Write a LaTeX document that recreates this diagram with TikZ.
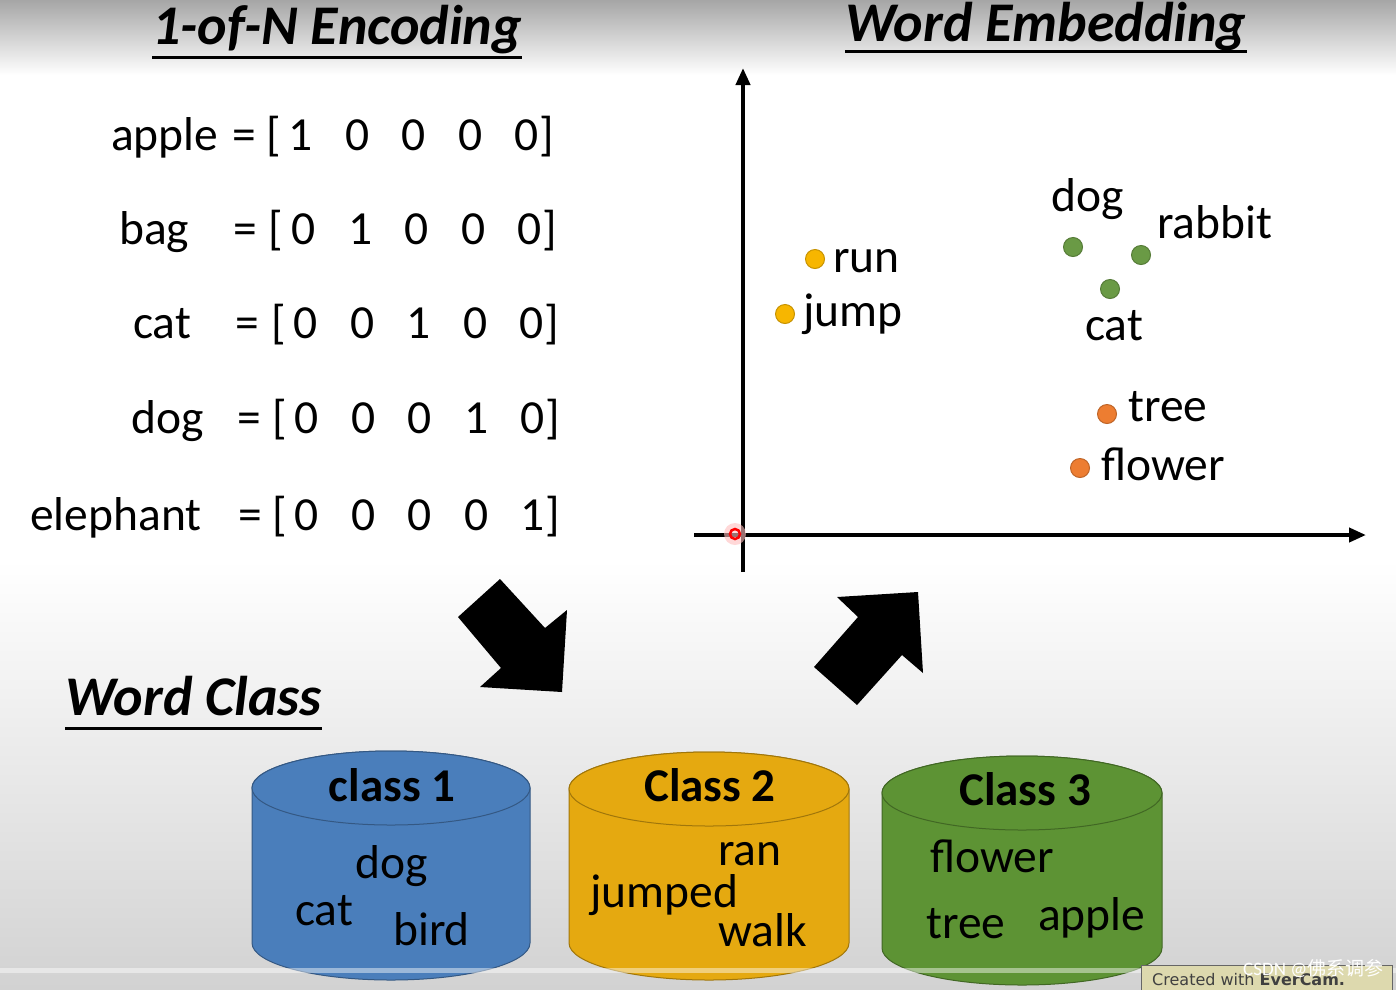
\documentclass[tikz,border=0pt]{standalone}
\usepackage{fontspec}
\setmainfont{Carlito}
\newfontfamily\cjkfont{Noto Sans CJK SC}
\newfontfamily\wmfont{DejaVu Sans}
\usetikzlibrary{arrows.meta}
\definecolor{cblue}{HTML}{4A7EBB}
\definecolor{cgold}{HTML}{E5A910}
\definecolor{cgreen}{HTML}{5D9334}
\definecolor{dgold}{HTML}{F7B600}
\definecolor{dgreen}{HTML}{6A9A45}
\definecolor{dorange}{HTML}{ED7D31}
\definecolor{bgtop}{HTML}{A6A6A6}
\definecolor{bgbot}{HTML}{D2D2D2}
\definecolor{wmbox}{HTML}{DDD9AE}
\newcommand\drawcyl[6]{%
  \filldraw[fill=#6, draw=#6!70!black, line width=1pt]
    (#1-#4,#2) -- (#1-#4,#3) arc[start angle=180,end angle=0,x radius=#4,y radius=#5]
    -- (#1+#4,#2) arc[start angle=0,end angle=-180,x radius=#4,y radius=#5] -- cycle;
  \filldraw[fill=#6, draw=#6!70!black, line width=1pt] (#1,#2) ellipse[x radius=#4, y radius=#5];}
\begin{document}
\begin{tikzpicture}[x=1pt,y=-1pt,
  wd/.style={font=\fontsize{47.5}{50}\selectfont, inner sep=0pt, anchor=base west},
  wdc/.style={font=\fontsize{47.5}{50}\selectfont, inner sep=0pt, anchor=base},
  ttl/.style={font=\fontsize{56}{60}\selectfont\bfseries\itshape, inner sep=0pt, anchor=base west},
  cls/.style={font=\fontsize{47}{50}\selectfont\bfseries, inner sep=0pt, anchor=base},
  ul/.style={line width=3pt},
  axis/.style={line width=4pt, -{Triangle[length=17pt,width=14pt]}},
  pt/.style={circle, inner sep=0pt, minimum size=19pt, line width=1pt},
  ptgold/.style={pt, fill=dgold, draw=dgold!80!black},
  ptgreen/.style={pt, fill=dgreen, draw=dgreen!80!black},
  ptorange/.style={pt, fill=dorange, draw=dorange!80!black},
  blk/.style={fill=black}]
\useasboundingbox (0,0) rectangle (1396,989);
% background
\fill[white] (0,0) rectangle (1396,989);
\shade[top color=bgtop, bottom color=white] (0,0) rectangle (1396,75);
\shade[top color=white, bottom color=bgbot] (0,560) rectangle (1396,989);

% titles
\node[ttl] (t1) at (152,44) {1-of-N Encoding};
\draw[ul] ([yshift=-13pt]t1.base west) -- ([yshift=-13pt]t1.base east);
\node[ttl] (t2) at (845,41) {Word Embedding};
\draw[ul] ([yshift=-10pt]t2.base west) -- ([yshift=-10pt]t2.base east);
\node[ttl] (t3) at (65,715) {Word Class};
\draw[ul] ([yshift=-13pt]t3.base west) -- ([yshift=-13pt]t3.base east);

% one-hot rows
\foreach \w/\wx/\yy/\eq/\br/\dz/\a/\b/\c/\d/\e/\r in {
  apple/111/150/232/266/301/1/0/0/0/0/1,
  bag/119/244/233/268/304/0/1/0/0/0/2,
  cat/133/338/235/271/306/0/0/1/0/0/3,
  dog/131/433/237/272/307/0/0/0/1/0/4,
  elephant/30/530/238/272/307/0/0/0/0/1/5}{
  \node[wd] (w\r) at (\wx,\yy) {\w};
  \node[wd] (eq\r) at (\eq,\yy) {=};
  \node[wd] (br\r) at (\br,\yy) {[};
  \node[wdc] (da\r) at (\dz,\yy) {\a};
  \node[wdc] (db\r) at (\dz+56.5,\yy) {\b};
  \node[wdc] (dc\r) at (\dz+113,\yy) {\c};
  \node[wdc] (dd\r) at (\dz+169.5,\yy) {\d};
  \node[wdc] (de\r) at (\dz+226,\yy) {\e};
  \node[wd] (ce\r) at (de\r.base east) {]};
}

% axes
\coordinate (O) at (743,535);
\coordinate (yb) at (743,572);
\coordinate (yt) at (743,68);
\coordinate (xl) at (694,535);
\coordinate (xr) at (1366,535);
\draw[axis] (yb) -- (yt);
\draw[axis] (xl) -- (xr);
\fill[red!25, opacity=0.6] (735,534) circle (11);
\draw[red, line width=2.5pt] (735,534) circle (5);

% embedding points
\node[ptgold] (prun) at (815,259) {};
\node[wd] (lrun) at (833,272) {run};
\node[ptgold] (pjump) at (785,314) {};
\node[wd] (ljump) at (803,326) {jump};
\node[ptgreen] (pdog) at (1073,247) {};
\node[wd] (ldog) at (1051,211) {dog};
\node[ptgreen] (prab) at (1141,255) {};
\node[wd] (lrab) at (1157,238) {rabbit};
\node[ptgreen] (pcat) at (1110,289) {};
\node[wd] (lcat) at (1085,340) {cat};
\node[ptorange] (ptree) at (1107,414) {};
\node[wd] (ltree) at (1128,421) {tree};
\node[ptorange] (pflow) at (1080,468) {};
\node[wd] (lflow) at (1101,480) {flower};

% block arrows
\fill[blk] (458,617) -- (500,579) -- (545,628) -- (567,610) -- (562,692) -- (480,687) -- (501,668) -- cycle;
\fill[blk] (918,592) -- (837,597) -- (858,617) -- (814,667) -- (857,705) -- (902,655) -- (923,673) -- cycle;

% cylinders
\drawcyl{391}{788}{943}{139}{37}{cblue}
\drawcyl{709}{789}{943}{140}{37}{cgold}
\drawcyl{1022}{793}{948}{140}{37}{cgreen}

\node[cls] (c1) at (392,801) {class 1};
\node[wd] (c1a) at (355,878) {dog};
\node[wd] (c1b) at (295,925) {cat};
\node[wd] (c1c) at (393,945) {bird};

\node[cls] (c2) at (710,801) {Class 2};
\node[wd] (c2a) at (718,865) {ran};
\node[wd] (c2b) at (590,907) {jumped};
\node[wd] (c2c) at (718,946) {walk};

\node[cls] (c3) at (1025,805) {Class 3};
\node[wd] (c3a) at (930,872) {flower};
\node[wd] (c3b) at (926,938) {tree};
\node[wd] (c3c) at (1038,930) {apple};

% video band
\fill[white, opacity=0.45] (0,968) rectangle (1396,973);

% watermark
\filldraw[fill=wmbox, draw=black!60, line width=1pt] (1141,965) rectangle (1392,995);
\node[inner sep=0pt, anchor=base west, font=\wmfont\fontsize{16}{18}\selectfont, text=black!75] (wm) at (1152,985) {Created with \textbf{EverCam.}};
\node[inner sep=0pt, anchor=base west, font=\fontsize{19}{20}\selectfont, text=white] (csdn) at (1243,975) {CSDN @{\cjkfont 佛系调参}};
\end{tikzpicture}
\end{document}
